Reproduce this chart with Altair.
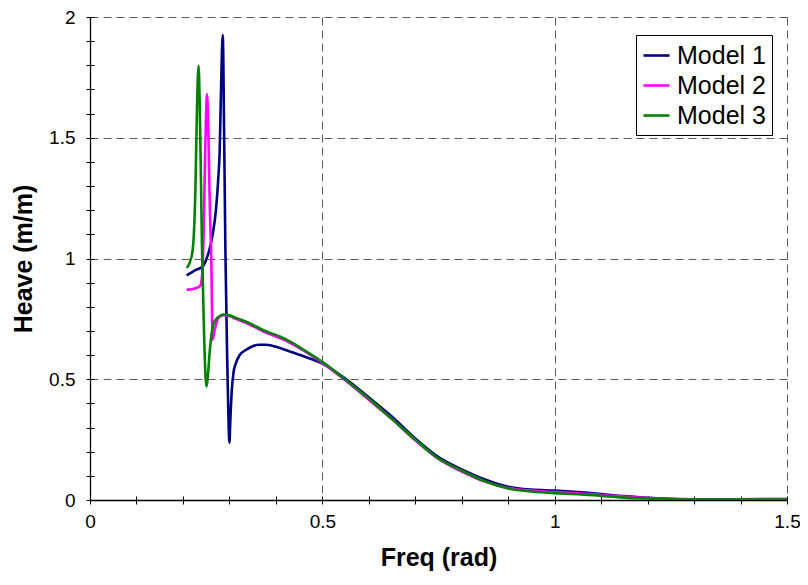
import altair as alt
import pandas as pd

# ---- data ----
models = ["Model 1", "Model 2", "Model 3"]
colors = ["#000080", "#FF00FF", "#008000"]

m1_freq = [0.208, 0.225, 0.243, 0.25, 0.257, 0.264, 0.271, 0.276, 0.279, 0.282, 0.2857,
           0.289, 0.2915, 0.295, 0.2975, 0.300, 0.302, 0.305, 0.309, 0.314, 0.322, 0.336,
           0.350, 0.364, 0.38, 0.407, 0.43, 0.46, 0.5, 0.55, 0.6, 0.65, 0.7, 0.75, 0.8,
           0.85, 0.9, 0.95, 1.0, 1.05, 1.1, 1.15, 1.2, 1.25, 1.3, 1.4, 1.5]
m1_heave = [0.93, 0.95, 0.968, 0.995, 1.037, 1.10, 1.20, 1.33, 1.44, 1.70, 1.925,
            1.45, 1.02, 0.61, 0.38, 0.237, 0.33, 0.45, 0.53, 0.567, 0.60, 0.622,
            0.637, 0.643, 0.643, 0.63, 0.615, 0.595, 0.565, 0.502, 0.425, 0.345, 0.255, 0.178, 0.127,
            0.085, 0.055, 0.043, 0.039, 0.033, 0.025, 0.016, 0.009, 0.005, 0.003, 0.003, 0.004]

m2_freq = [0.208, 0.22, 0.232, 0.238, 0.242, 0.245, 0.248, 0.252, 0.255, 0.258, 0.261,
           0.264, 0.268, 0.273, 0.279, 0.29, 0.30, 0.314, 0.34, 0.371, 0.407, 0.43, 0.46,
           0.5, 0.55, 0.6, 0.65, 0.7, 0.75, 0.8, 0.85, 0.9, 0.95, 1.0, 1.05, 1.1, 1.15,
           1.2, 1.25, 1.3, 1.4, 1.5]
m2_heave = [0.871, 0.873, 0.88, 0.89, 0.95, 1.15, 1.45, 1.68, 1.50, 1.20, 1.0,
            0.664, 0.70, 0.74, 0.76, 0.765, 0.762, 0.75, 0.73, 0.70, 0.672, 0.652, 0.618,
            0.568, 0.495, 0.415, 0.335, 0.247, 0.170, 0.118, 0.076, 0.05, 0.039, 0.033, 0.028, 0.021, 0.014,
            0.008, 0.004, 0.002, 0.002, 0.003]

m3_freq = [0.208, 0.215, 0.221, 0.224, 0.227, 0.230, 0.2336, 0.236, 0.239, 0.241, 0.243,
           0.246, 0.249, 0.251, 0.254, 0.257, 0.261, 0.265, 0.270, 0.278, 0.286, 0.30,
           0.314, 0.34, 0.371, 0.407, 0.43, 0.46, 0.5, 0.55, 0.6, 0.65, 0.7, 0.75, 0.8,
           0.85, 0.9, 0.95, 1.0, 1.05, 1.1, 1.15, 1.2, 1.25, 1.3, 1.4, 1.5]
m3_heave = [0.961, 0.985, 1.037, 1.12, 1.30, 1.60, 1.798, 1.65, 1.30, 1.05, 0.885,
            0.65, 0.50, 0.47, 0.52, 0.60, 0.678, 0.725, 0.745, 0.76, 0.768, 0.765,
            0.754, 0.735, 0.705, 0.678, 0.657, 0.622, 0.572, 0.498, 0.42, 0.335, 0.25, 0.172, 0.122,
            0.078, 0.048, 0.035, 0.028, 0.024, 0.017, 0.010, 0.006, 0.003, 0.002, 0.002, 0.002]

x_ticks = [round(i * 0.1, 1) for i in range(16)]
y_ticks = [round(i * 0.1, 1) for i in range(21)]

rows = []
for name, fr, hv in [(models[0], m1_freq, m1_heave),
                     (models[1], m2_freq, m2_heave),
                     (models[2], m3_freq, m3_heave)]:
    for i, (f, h) in enumerate(zip(fr, hv)):
        rows.append({"Model": name, "freq": f, "heave": h, "i": i})
df = pd.DataFrame(rows)

is_major = "abs(datum.value / 0.5 - round(datum.value / 0.5)) < 1e-6"
grid_opacity = {"condition": {"test": is_major, "value": 1}, "value": 0}
grid_color = {"condition": {"test": "datum.value === 0", "value": "#000000"}, "value": "#5a5a5a"}
grid_dash = {"condition": {"test": "datum.value === 0", "value": []}, "value": [8, 5]}
grid_width = {"condition": {"test": "datum.value === 0", "value": 1.3}, "value": 1}
label_expr = is_major + " ? datum.label : ''"

FONT = "Liberation Sans"

x_axis = alt.Axis(
    values=x_ticks, title="Freq (rad)", labelExpr=label_expr, format="~g",
    grid=True, gridOpacity=grid_opacity, gridColor=grid_color, gridDash=grid_dash, gridWidth=grid_width,
    domain=False, offset=-4, tickSize=8, tickColor="#000000", tickWidth=1,
    labelPadding=8, labelFontSize=19, labelFont=FONT, labelColor="#000000",
    labelFlush=False, labelOverlap=False,
    titleFontSize=25, titleFont=FONT, titleFontWeight="bold", titleColor="#000000",
    titlePadding=14,
)
y_axis = alt.Axis(
    values=y_ticks, title="Heave (m/m)", labelExpr=label_expr, format="~g",
    grid=True, gridOpacity=grid_opacity, gridColor=grid_color, gridDash=grid_dash, gridWidth=grid_width,
    domain=False, offset=-4, tickSize=8, tickColor="#000000", tickWidth=1,
    labelPadding=11, labelFontSize=19, labelFont=FONT, labelColor="#000000",
    labelFlush=False, labelOverlap=False,
    titleFontSize=25, titleFont=FONT, titleFontWeight="bold", titleColor="#000000",
    titlePadding=12,
)

chart = alt.Chart(df).mark_line(strokeWidth=2.6, clip=True, interpolate="monotone").encode(
    x=alt.X("freq:Q", scale=alt.Scale(domain=[0, 1.5], nice=False, zero=False), axis=x_axis),
    y=alt.Y("heave:Q", scale=alt.Scale(domain=[0, 2], nice=False, zero=False), axis=y_axis),
    color=alt.Color("Model:N", scale=alt.Scale(domain=models, range=colors),
                    legend=alt.Legend(
                        title=None, orient="none", legendX=546, legendY=18,
                        strokeColor="#000000", fillColor="#ffffff", padding=6,
                        symbolType="stroke", symbolSize=676, symbolStrokeWidth=2.6,
                        labelFontSize=25, labelFont=FONT, labelColor="#000000",
                        rowPadding=2, labelOffset=6, cornerRadius=0,
                    )),
    order="i:Q",
).properties(
    width=697, height=483,
    autosize=alt.AutoSizeParams(type="none"),
    padding={"left": 82, "top": 9, "right": 13, "bottom": 72},
).configure_view(stroke=None)

chart.save("out.html", embed_options={"renderer": "svg", "actions": False})
